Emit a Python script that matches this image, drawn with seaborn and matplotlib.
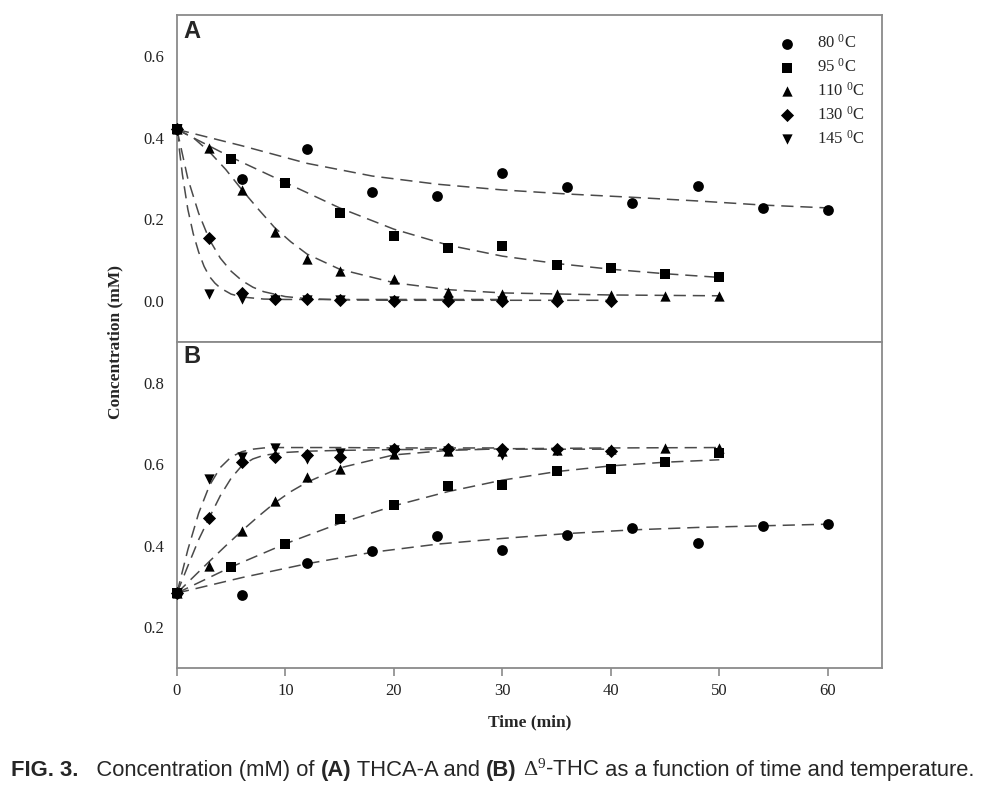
import matplotlib
matplotlib.use("Agg")
import matplotlib.pyplot as plt
import seaborn as sns

# ---- measured points, panel A (THCA-A) ----
tA_80 = [0, 6, 12, 18, 24, 30, 36, 42, 48, 54, 60]
cA_80 = [0.42, 0.298, 0.371, 0.268, 0.258, 0.314, 0.280, 0.239, 0.281, 0.227, 0.224]
tA_95 = [0, 5, 10, 15, 20, 25, 30, 35, 40, 45, 50]
cA_95 = [0.42, 0.348, 0.289, 0.215, 0.159, 0.129, 0.136, 0.089, 0.080, 0.066, 0.058]
tA_110 = [0, 3, 6, 9, 12, 15, 20, 25, 30, 35, 40, 45, 50]
cA_110 = [0.42, 0.375, 0.271, 0.169, 0.104, 0.074, 0.053, 0.023, 0.018, 0.017, 0.015, 0.012, 0.012]
tA_130 = [0, 3, 6, 9, 12, 15, 20, 25, 30, 35, 40]
cA_130 = [0.42, 0.154, 0.021, 0.006, 0.004, 0.002, 0.001, 0.0, 0.0, 0.0, 0.0]
tA_145 = [0, 3, 6, 9, 12, 15, 20, 25, 30]
cA_145 = [0.42, 0.018, 0.004, 0.003, 0.002, 0.002, 0.001, 0.001, 0.001]

# ---- measured points, panel B (delta9-THC) ----
cB_80 = [0.284, 0.279, 0.357, 0.386, 0.424, 0.390, 0.427, 0.444, 0.406, 0.448, 0.453]
cB_95 = [0.284, 0.348, 0.404, 0.465, 0.499, 0.546, 0.550, 0.583, 0.588, 0.605, 0.627]
cB_110 = [0.284, 0.351, 0.437, 0.510, 0.568, 0.588, 0.624, 0.632, 0.633, 0.636, 0.638, 0.640, 0.641]
cB_130 = [0.284, 0.469, 0.605, 0.617, 0.623, 0.617, 0.638, 0.638, 0.638, 0.637, 0.633]
cB_145 = [0.284, 0.563, 0.618, 0.641, 0.612, 0.628, 0.635, 0.632, 0.622]

# ---- fitted curves (dashed) ----
ft_80 = [0, 6, 12, 18, 24, 30, 36, 42, 48, 54, 60]
fA_80 = [0.42, 0.38, 0.337, 0.306, 0.286, 0.272, 0.262, 0.254, 0.245, 0.235, 0.228]
fB_80 = [0.284, 0.322, 0.356, 0.384, 0.404, 0.418, 0.43, 0.439, 0.445, 0.449, 0.453]
ft_95 = [0, 5, 10, 15, 20, 25, 30, 35, 40, 45, 50]
fA_95 = [0.42, 0.352, 0.29, 0.228, 0.176, 0.137, 0.110, 0.092, 0.078, 0.067, 0.058]
fB_95 = [0.284, 0.348, 0.405, 0.455, 0.498, 0.533, 0.561, 0.582, 0.596, 0.605, 0.611]
ft_110 = [0, 1.5, 3, 4.5, 6, 7.5, 9, 10.5, 12, 15, 20, 25, 30, 40, 50]
fA_110 = [0.42, 0.40, 0.365, 0.322, 0.272, 0.225, 0.18, 0.145, 0.115, 0.078, 0.045, 0.028, 0.02, 0.015, 0.013]
fB_110 = [0.284, 0.323, 0.362, 0.40, 0.437, 0.472, 0.505, 0.533, 0.556, 0.591, 0.623, 0.634, 0.638, 0.64, 0.641]
ft_130 = [0, 1, 2, 3, 4, 5, 6, 7, 8, 10, 12, 15, 20, 30, 40]
fA_130 = [0.42, 0.30, 0.215, 0.15, 0.105, 0.073, 0.05, 0.034, 0.023, 0.011, 0.006, 0.003, 0.002, 0.002, 0.002]
fB_130 = [0.284, 0.35, 0.415, 0.47, 0.523, 0.566, 0.597, 0.613, 0.622, 0.629, 0.632, 0.634, 0.636, 0.637, 0.637]
ftA_145 = [0, 0.5, 1, 1.5, 2, 2.5, 3, 3.5, 4, 5, 6, 8, 10, 15, 20, 30]
fA_145 = [0.42, 0.31, 0.225, 0.165, 0.12, 0.085, 0.06, 0.044, 0.032, 0.017, 0.01, 0.005, 0.004, 0.004, 0.004, 0.004]
ftB_145 = [0, 1, 2, 3, 4, 5, 6, 7, 8, 9, 12, 15, 20, 30]
fB_145 = [0.284, 0.39, 0.48, 0.548, 0.592, 0.618, 0.631, 0.637, 0.64, 0.641, 0.641, 0.641, 0.64, 0.64]

temps = ["80", "95", "110", "130", "145"]
markers = ["o", "s", "^", "D", "v"]
sizes = [60, 50, 55, 45, 55]

sns.set_style("white")
plt.rcParams["font.family"] = ["Liberation Serif", "DejaVu Serif"]
plt.rcParams["mathtext.fontset"] = "custom"
plt.rcParams["mathtext.rm"] = "Liberation Serif"
plt.rcParams["mathtext.it"] = "Liberation Serif:italic"
plt.rcParams["mathtext.bf"] = "Liberation Serif:bold"

fig = plt.figure(figsize=(10.02, 8.02), dpi=100)
axA = fig.add_axes([0.1766, 0.5736, 0.7036, 0.4077])
axB = fig.add_axes([0.1766, 0.167, 0.7036, 0.4066], sharex=axA)

grey = "#8a8a8a"
dash_col = "#4a4a4a"

ptsA = [(tA_80, cA_80), (tA_95, cA_95), (tA_110, cA_110), (tA_130, cA_130), (tA_145, cA_145)]
ptsB = [(tA_80, cB_80), (tA_95, cB_95), (tA_110, cB_110), (tA_130, cB_130), (tA_145, cB_145)]
fitA = [(ft_80, fA_80), (ft_95, fA_95), (ft_110, fA_110), (ft_130, fA_130), (ftA_145, fA_145)]
fitB = [(ft_80, fB_80), (ft_95, fB_95), (ft_110, fB_110), (ft_130, fB_130), (ftB_145, fB_145)]

for ax, pts, fits in [(axA, ptsA, fitA), (axB, ptsB, fitB)]:
    for (ft, fy) in fits:
        sns.lineplot(x=ft, y=fy, ax=ax, color=dash_col, linewidth=1.1,
                     linestyle=(0, (8, 4.5)), sort=False, estimator=None, zorder=2)
    for i, (t, c) in enumerate(pts):
        sns.scatterplot(x=t, y=c, ax=ax, marker=markers[i], s=sizes[i], color="black",
                        edgecolor="black", linewidth=0, zorder=3, clip_on=False,
                        label=temps[i] + r" $^\mathrm{0}$C")

for ax in (axA, axB):
    ax.set_xlim(0, 65)
    for sp in ax.spines.values():
        sp.set_color(grey)
        sp.set_linewidth(1.3)
    ax.tick_params(axis="both", direction="out", length=6, width=1.2, color=grey,
                   labelsize=12, labelcolor="#222222", pad=3)
    ax.set_xlabel("")
    ax.set_ylabel("")

axA.set_ylim(-0.1, 0.7)
axA.set_yticks([0.0, 0.2, 0.4, 0.6])
axA.set_yticklabels(["0.0", "0.2", "0.4", "0.6"])
axA.tick_params(axis="x", bottom=False, labelbottom=False)

axB.set_ylim(0.1, 0.9)
axB.set_yticks([0.2, 0.4, 0.6, 0.8])
axB.set_yticklabels(["0.2", "0.4", "0.6", "0.8"])
axB.set_xticks([0, 10, 20, 30, 40, 50, 60])
axB.tick_params(axis="x", bottom=True, labelbottom=True, pad=5)
axB.get_legend().remove()

axA.legend(loc="upper right", bbox_to_anchor=(0.985, 0.962), frameon=False,
           fontsize=12, handlelength=1.0, handletextpad=1.3, labelspacing=0.36,
           borderaxespad=0)

axA.text(0.009, 0.985, "A", transform=axA.transAxes, ha="left", va="top",
         fontsize=17, fontweight="bold", family=["Liberation Sans", "DejaVu Sans"])
axB.text(0.009, 0.99, "B", transform=axB.transAxes, ha="left", va="top",
         fontsize=17, fontweight="bold", family=["Liberation Sans", "DejaVu Sans"])

fig.text(0.115, 0.574, "Concentration (mM)", rotation=90, ha="center", va="center",
         fontsize=12.5, fontweight="bold")
fig.text(0.529, 0.0995, "Time (min)", ha="center", va="center",
         fontsize=12.5, fontweight="bold")

# caption built piece by piece (bold / regular)
cap_font = ["Liberation Sans", "DejaVu Sans"]
pieces = [("FIG. 3.", "bold"), ("   Concentration (mM) of ", "normal"), ("(A)", "bold"),
          (" THCA-A and ", "normal"), ("(B)", "bold"), (r" $\Delta^9$-THC", "normal"),
          (" as a function of time and temperature.", "normal")]
renderer = fig.canvas.get_renderer()
x = 0.0105
for txt, w in pieces:
    t = fig.text(x, 0.033, txt, fontsize=15.8, fontweight=w, family=cap_font,
                 ha="left", va="baseline")
    x += t.get_window_extent(renderer=renderer).width / fig.bbox.width

fig.savefig("out.png", dpi=100)
